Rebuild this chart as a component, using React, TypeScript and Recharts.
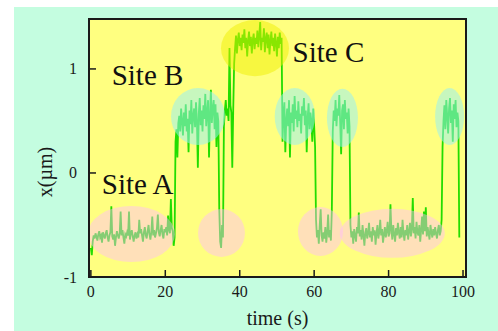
import React from 'react';
import { ComposedChart, Line, XAxis, YAxis, CartesianGrid, ReferenceArea, ReferenceDot, Label } from 'recharts';

// trace sampled every 0.25 s, position in µm
const sampleStep = 0.25;

const siteA1 = [
  -0.72, -0.79, -0.66, -0.6, -0.63, -0.58, -0.61, -0.65, -0.59, -0.56,
  -0.62, -0.6, -0.67, -0.57, -0.6, -0.63, -0.58, -0.55, -0.62, -0.66,
  -0.6, -0.57, -0.32, -0.61, -0.64, -0.59, -0.7, -0.62, -0.56, -0.6,
  -0.63, -0.58, -0.37, -0.6, -0.55, -0.62, -0.68, -0.59, -0.61, -0.57,
  -0.6, -0.37, -0.64, -0.58, -0.55, -0.61, -0.66, -0.6, -0.57, -0.63,
  -0.59, -0.62, -0.45, -0.58, -0.54, -0.6, -0.66, -0.57, -0.52, -0.6,
  -0.63, -0.56, -0.5, -0.59, -0.64, -0.57, -0.42, -0.6, -0.55, -0.62,
  -0.58, -0.53, -0.4, -0.57, -0.61, -0.55, -0.5, -0.59, -0.63, -0.54,
  -0.57, -0.52, -0.6, -0.41, -0.55, -0.58, -0.25, -0.53, -0.56, -0.7,
  -0.62,
];
const siteB1 = [
  0.3, 0.42, 0.15, 0.48, 0.55, 0.4, 0.62, 0.5, 0.36, 0.58,
  0.45, 0.66, 0.4, 0.52, 0.2, 0.6, 0.47, 0.7, 0.38, 0.55,
  0.62, 0.44, 0.68, 0.5, 0.05, 0.57, 0.72, 0.46, 0.6, 0.4,
  0.65, 0.52, 0.76, 0.45, 0.58, 0.7, 0.15, 0.55, 0.8, 0.48,
  0.62, 0.7, 0.42, 0.66, 0.25, 0.58, 0.5,
];
const siteA2 = [-0.35, -0.66, -0.72, -0.5, -0.62];
const siteB2 = [0.45, 0.6, 0.7, 0.55, 0.62, 0.5, 1.2, 0.65, 0.58, 0.05, 0.6];
const siteC1 = [
  1.05, 1.2, 1.32, 1.15, 1.28, 1.35, 1.22, 1.3, 1.18, 1.33,
  1.25, 1.38, 1.2, 1.3, 1.12, 1.27, 1.36, 1.22, 1.31, 1.15,
  1.28, 1.34, 1.19, 1.3, 1.24, 1.37, 1.21, 1.32, 1.45, 1.18,
  1.3, 1.26, 1.39, 1.16, 1.29, 1.35, 1.2, 1.33, 1.14, 1.27,
  1.36, 1.22, 1.3, 1.17, 1.34, 1.25, 1.12, 1.31, 1.2, 1.35,
  1.24, 1.3,
];
const siteB3 = [
  0.3, 0.55, 0.68, 0.2, 0.5, 0.62, 0.45, 0.7, 0.15, 0.58,
  0.48, 0.66, 0.4, 0.74, 0.52, 0.6, 0.44, 0.69, 0.5, 0.57,
  0.38, 0.64, 0.55, 0.72, 0.46, 0.6, 0.2, 0.53, 0.67, 0.42,
  0.58, 0.5, 0.3, 0.62, 0.45, 0.25,
];
const siteA3 = [-0.45, -0.62, -0.55, -0.68, -0.5, -0.35, -0.6, -0.66, -0.57, -0.63, -0.52, -0.67, -0.58, -0.4, -0.62, -0.55, -0.65, -0.36];
const siteB4 = [0.4, 0.6, 0.5, 0.7, 0.45, 0.62, 0.55, 0.75, 0.48, 0.18, 0.6, 0.66, 0.42, 0.7, 0.52, 0.58, 0.38, 0.62, 0.45];
const siteA4 = [
  -0.5, -0.62, -0.56, -0.68, -0.54, -0.6, -0.66, -0.52, -0.58, -0.38,
  -0.61, -0.55, -0.64, -0.5, -0.6, -0.7, -0.57, -0.53, -0.63, -0.58,
  -0.48, -0.62, -0.56, -0.66, -0.52, -0.6, -0.55, -0.69, -0.58, -0.5,
  -0.63, -0.57, -0.45, -0.6, -0.54, -0.67, -0.59, -0.52, -0.62, -0.56,
  -0.47, -0.61, -0.58, -0.3, -0.55, -0.64, -0.5, -0.59, -0.66, -0.53,
  -0.6, -0.48, -0.57, -0.63, -0.52, -0.62, -0.45, -0.58, -0.65, -0.55,
  -0.6, -0.5, -0.64, -0.56, -0.48, -0.61, -0.54, -0.24, -0.58, -0.52,
  -0.63, -0.47, -0.57, -0.6, -0.5, -0.66, -0.55, -0.42, -0.59, -0.37,
  -0.56, -0.33, -0.61, -0.52, -0.58, -0.64, -0.5, -0.57, -0.62, -0.54,
  -0.6, -0.52, -0.58, -0.63, -0.55, -0.5, -0.6, -0.56, -0.45,
];
const siteB5 = [0.25, 0.5, 0.65, 0.42, 0.7, 0.55, 0.38, 0.62, 0.72, 0.48, 0.6, 0.3, 0.66, 0.52, 0.7, 0.44, 0.58, 0.5];
const siteA5 = [-0.62];

const trace = [...siteA1, ...siteB1, ...siteA2, ...siteB2, ...siteC1, ...siteB3, ...siteA3, ...siteB4, ...siteA4, ...siteB5, ...siteA5];
const data = trace.map((x, i) => ({ t: i * sampleStep, x }));

const xTicks = [0, 20, 40, 60, 80, 100];
const yTicks = [-1, 0, 1];

// highlighted dwell regions: centre (t, x) and half-extent (dt, dx)
const regionSites = ['A', 'A', 'A', 'A', 'B', 'B', 'B', 'B', 'C'];
const regionT = [10.9, 35.1, 61.7, 81.0, 28.8, 54.8, 67.6, 96.4, 44.1];
const regionX = [-0.587, -0.577, -0.563, -0.58, 0.543, 0.543, 0.53, 0.543, 1.2];
const regionDt = [11.7, 6.3, 6.05, 14.1, 7.26, 5.4, 4.17, 3.9, 9.14];
const regionDx = [0.27, 0.23, 0.235, 0.235, 0.274, 0.274, 0.28, 0.274, 0.27];

const labelTexts = ['Site A', 'Site B', 'Site C'];
const labelT = [2.95, 5.6, 54.2];
const labelX = [-0.2, 0.85, 1.07];

const siteFill: Record<string, string> = { A: '#ffbbff', B: '#95f0f5', C: '#f0f000' };
const siteOpacity: Record<string, number> = { A: 0.45, B: 0.53, C: 0.5 };

const font = '"Liberation Serif", "Times New Roman", serif';
const ink = '#1a1a1a';

const XTick = (p: any) => (
  <g>
    <line x1={p.x} x2={p.x} y1={p.y} y2={p.y - 7} stroke={ink} strokeWidth={1.5} />
    <text x={p.x} y={p.y + 20} textAnchor="middle" fontFamily={font} fontSize={16} fill={ink}>
      {p.payload.value}
    </text>
  </g>
);

const YTick = (p: any) => (
  <g>
    <line x1={p.x} x2={p.x + 7} y1={p.y} y2={p.y} stroke={ink} strokeWidth={1.5} />
    <text x={p.x - 12} y={p.y + 5.5} textAnchor="end" fontFamily={font} fontSize={16} fill={ink}>
      {p.payload.value}
    </text>
  </g>
);

const App = () => {
  return (
    <div style={{ position: 'absolute', left: 14, top: 7, width: 484, height: 324, background: '#c4fde0' }}>
      <ComposedChart width={484} height={324} data={data} margin={{ top: 12, right: 32, left: 0, bottom: 0 }}>
        <CartesianGrid fill="#ffff80" stroke="none" horizontal={false} vertical={false} />
        <XAxis
          type="number"
          dataKey="t"
          domain={[-0.5, 100.8]}
          ticks={xTicks}
          interval={0}
          height={54}
          axisLine={false}
          tickLine={false}
          tickSize={0}
          tickMargin={0}
          tick={<XTick />}
        >
          <Label
            content={({ viewBox }: any) => (
              <text x={viewBox.x + viewBox.width / 2} y={viewBox.y + 48} textAnchor="middle" fontFamily={font} fontSize={20} fill={ink}>
                time (s)
              </text>
            )}
          />
        </XAxis>
        <YAxis
          type="number"
          domain={[-1, 1.48]}
          ticks={yTicks}
          interval={0}
          width={75}
          axisLine={false}
          tickLine={false}
          tickSize={0}
          tickMargin={0}
          tick={<YTick />}
        >
          <Label
            content={() => (
              <text x={31} y={165} transform="rotate(-90, 31, 165)" textAnchor="middle" dominantBaseline="central" fontFamily={font} fontSize={20} fill={ink}>
                x(µm)
              </text>
            )}
          />
        </YAxis>
        <Line type="linear" dataKey="x" stroke="#22dd00" strokeWidth={1.8} dot={false} isAnimationActive={false} />
        {regionSites.map((s, i) => (
          <ReferenceArea
            key={i}
            x1={regionT[i] - regionDt[i]}
            x2={regionT[i] + regionDt[i]}
            y1={regionX[i] - regionDx[i]}
            y2={regionX[i] + regionDx[i]}
            ifOverflow="hidden"
            zIndex={450}
            shape={(p: any) => (
              <ellipse
                cx={p.x + p.width / 2}
                cy={p.y + p.height / 2}
                rx={Math.abs(p.width) / 2}
                ry={Math.abs(p.height) / 2}
                fill={siteFill[s]}
                fillOpacity={siteOpacity[s]}
              />
            )}
          />
        ))}
        <ReferenceArea
          x1={-0.5}
          x2={100.8}
          y1={-1}
          y2={1.48}
          fill="none"
          stroke={ink}
          strokeWidth={2}
          ifOverflow="visible"
          zIndex={460}
        />
        {labelTexts.map((txt, i) => (
          <ReferenceDot
            key={txt}
            x={labelT[i]}
            y={labelX[i]}
            r={0}
            ifOverflow="visible"
            zIndex={470}
            shape={(p: any) => (
              <text x={p.cx} y={p.cy} fontFamily={font} fontSize={29} fill="#111">
                {txt}
              </text>
            )}
          />
        ))}
      </ComposedChart>
    </div>
  );
};

export default App;
